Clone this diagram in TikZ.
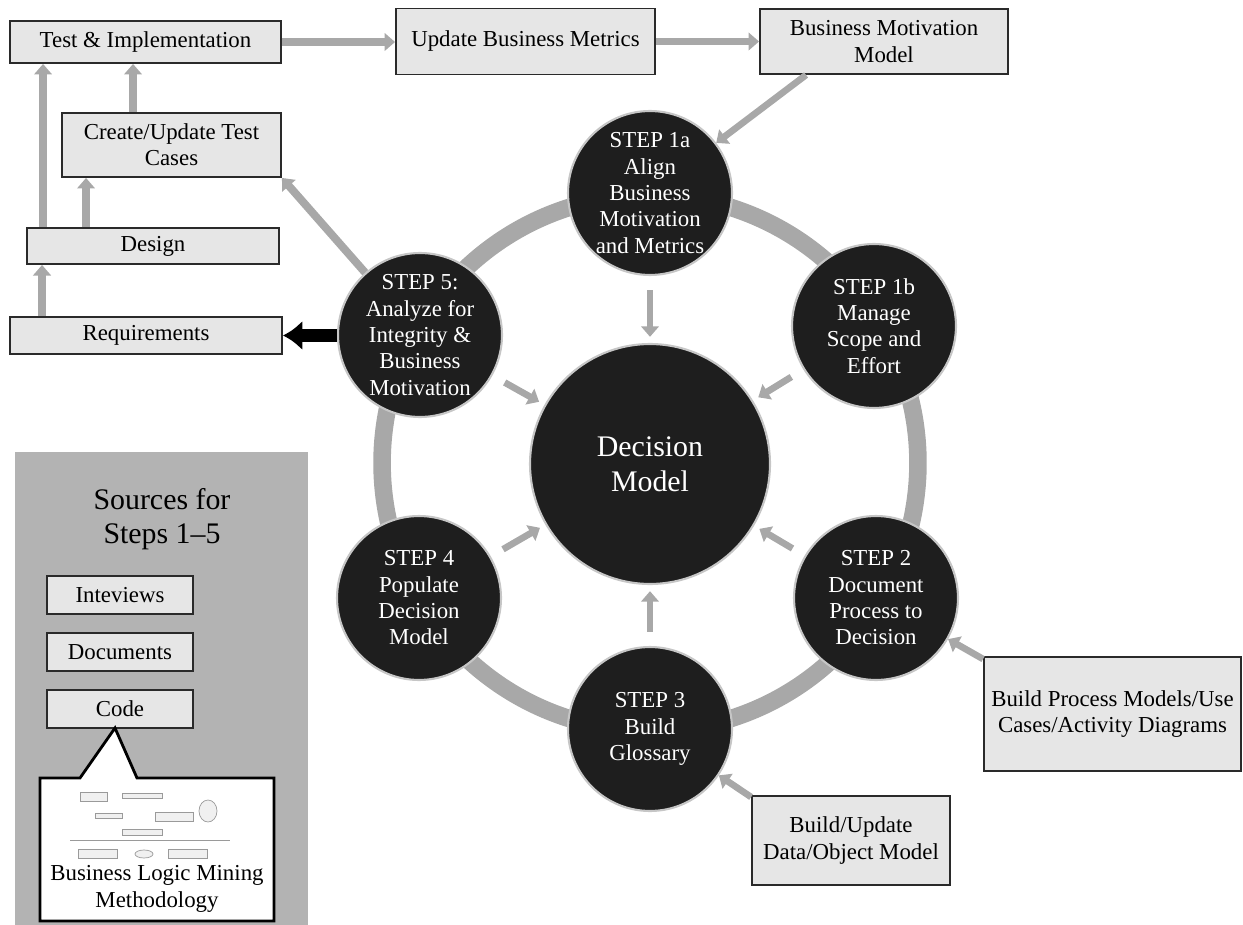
\documentclass[tikz,border=0pt]{standalone}
\usepackage{fontspec}
\setmainfont{Liberation Serif}
\usetikzlibrary{arrows.meta,positioning,backgrounds,calc}
\definecolor{boxfill}{HTML}{E6E6E6}
\definecolor{boxline}{HTML}{2A2A2A}
\definecolor{flowgray}{HTML}{A8A8A8}
\definecolor{stepfill}{HTML}{1E1E1E}
\definecolor{panelgray}{HTML}{B3B3B3}
\definecolor{thumbline}{HTML}{9A9A9A}

\begin{document}
\begin{tikzpicture}[x=0.02cm,y=-0.02cm,font=\fontsize{13}{15}\selectfont,
  box/.style={draw=boxline,fill=boxfill,line width=1.1pt,align=center,inner sep=2pt},
  stepnode/.style={circle,fill=stepfill,draw=gray!45,line width=1.2pt,text=white,
                   align=center,minimum size=3.28cm,inner sep=0pt},
  flow/.style={draw=flowgray,line width=4.5pt,-{Triangle[length=6pt,width=10pt]}},
  thinflow/.style={flow,line width=3.8pt},
  hubflow/.style={flow,line width=3.8pt,shorten <=8pt,shorten >=3.5pt},
  blackflow/.style={draw=black,line width=7pt,-{Latex[length=11pt,width=17pt]}},
  thumb/.style={draw=thumbline,fill=gray!12,line width=0.4pt}]
  \useasboundingbox (0,0) rectangle (1243,925);

  % sources panel
  \fill[panelgray] (15,452) rectangle (308,925);
  \node[font=\fontsize{17}{19.5}\selectfont,align=center] (srctitle) at (162,519) {Sources for\\Steps 1--5};
  \node[box,minimum width=2.92cm,minimum height=0.76cm] (interviews) at (120,595) {Inteviews};
  \node[box,minimum width=2.92cm,minimum height=0.76cm] (documents) at (120,652) {Documents};
  \node[box,minimum width=2.92cm,minimum height=0.76cm] (code) at (120,709) {Code};

  % callout with the mining thumbnail
  \draw[line width=1.6pt,fill=white] (40,778) -- (80,778) -- (115,728) -- (137,778)
        -- (274,778) -- (274,921) -- (40,921) -- cycle;
  \draw[thumb] (80,792) rectangle (107,801);
  \draw[thumb] (122,793) rectangle (162,798);
  \draw[thumb] (95,813) rectangle (122,818);
  \draw[thumb] (155,812) rectangle (193,821);
  \draw[thumb] (122,829) rectangle (162,835);
  \draw[thumb] (208,811) ellipse (9 and 11);
  \draw[thumbline,line width=0.3pt] (70,840) -- (230,840);
  \draw[thumb] (78,849) rectangle (117,858);
  \draw[thumb] (144,854) ellipse (9 and 4);
  \draw[thumb] (168,849) rectangle (207,858);
  \node[align=center,font=\fontsize{13}{15}\selectfont] (blmm) at (157,889) {Business Logic Mining\\Methodology};

  % top and left boxes
  \node[box,minimum width=5.42cm,minimum height=0.84cm] (testimpl) at (145.5,42) {Test \& Implementation};
  \node[box,minimum width=5.18cm,minimum height=1.32cm] (updmetrics) at (525.5,41.5) {Update Business Metrics};
  \node[box,minimum width=4.96cm,minimum height=1.30cm] (bmm) at (884,41.5) {Business Motivation\\Model};
  \node[box,minimum width=4.38cm,minimum height=1.28cm] (testcases) at (171.5,145) {Create/Update Test\\Cases};
  \node[box,minimum width=5.04cm,minimum height=0.72cm] (design) at (153,246) {Design};
  \node[box,minimum width=5.44cm,minimum height=0.74cm] (reqs) at (146,335.5) {Requirements};

  % right boxes
  \node[box,minimum width=5.14cm,minimum height=2.28cm] (bpm) at (1112.5,714) {Build Process Models/Use\\Cases/Activity Diagrams};
  \node[box,minimum width=3.96cm,minimum height=1.78cm] (bdata) at (851,840.5) {Build/Update\\Data/Object Model};

  % decision model and the steps round it
  \node[stepnode,minimum size=4.8cm,font=\fontsize{17}{20}\selectfont] (dm) at (650,464) {Decision\\Model};
  \node[stepnode] (s1a) at (650,193) {STEP 1a\\Align\\Business\\Motivation\\and Metrics};
  \node[stepnode] (s1b) at (874,326) {STEP 1b\\Manage\\Scope and\\Effort};
  \node[stepnode] (s2) at (876,598) {STEP 2\\Document\\Process to\\Decision};
  \node[stepnode] (s3) at (650,729) {STEP 3\\Build\\Glossary};
  \node[stepnode] (s4) at (419,598) {STEP 4\\Populate\\Decision\\Model};
  \node[stepnode] (s5) at (420,335) {STEP 5:\\Analyze for\\Integrity \&\\Business\\Motivation};

  \begin{scope}[on background layer]
    \draw[flowgray,line width=10pt] (650,463) circle[radius=5.36cm];
  \end{scope}

  % flows into the decision model
  \draw[hubflow] (s1a) -- (dm);
  \draw[hubflow] (s1b) -- (dm);
  \draw[hubflow] (s2) -- (dm);
  \draw[hubflow] (s3) -- (dm);
  \draw[hubflow] (s4) -- (dm);
  \draw[hubflow] (s5) -- (dm);

  % top row
  \draw[flow] (testimpl.east) -- (testimpl.east -| updmetrics.west);
  \draw[flow] (updmetrics.east) -- (updmetrics.east -| bmm.west);
  \draw[thinflow] ([xshift=0.94cm]bmm.south west) -- (s1a);

  % left column
  \draw[flow] (s5) -- (testcases.south east);
  \draw[blackflow] (s5.west |- reqs.east) -- (reqs.east);
  \coordinate (rqa) at ([xshift=0.66cm]reqs.north west);
  \draw[flow] (rqa) -- (rqa |- design.south);
  \coordinate (dga) at ([xshift=0.34cm]design.north west);
  \draw[flow] (dga) -- (dga |- testimpl.south);
  \coordinate (dgb) at ([xshift=1.2cm]design.north west);
  \draw[flow] (dgb) -- (dgb |- testcases.south);
  \coordinate (tca) at ([xshift=1.44cm]testcases.north west);
  \draw[flow] (tca) -- (tca |- testimpl.south);

  % inputs on the right
  \draw[thinflow] ([yshift=-0.06cm]bpm.north west) -- (s2);
  \draw[thinflow] ([yshift=-0.04cm]bdata.north west) -- (s3);
\end{tikzpicture}
\end{document}
